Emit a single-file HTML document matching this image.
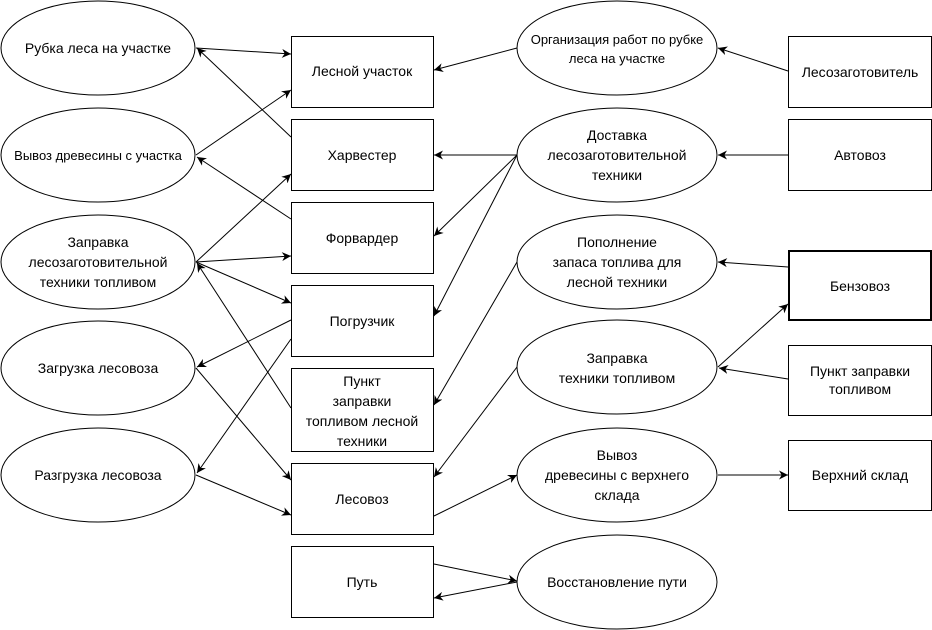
<!DOCTYPE html>
<html><head><meta charset="utf-8"><style>
html,body{margin:0;padding:0;background:#fff}
svg{display:block}
text{font-family:"Liberation Sans","DejaVu Sans",sans-serif;fill:#000;text-anchor:middle}
.s{font-size:14px}.m{font-size:14px}
</style></head><body>
<svg width="932" height="630" viewBox="0 0 932 630" xmlns="http://www.w3.org/2000/svg">
<defs><marker id="a" viewBox="0 0 10 10" refX="10" refY="5" markerWidth="9" markerHeight="9" markerUnits="userSpaceOnUse" orient="auto"><path d="M0,0 L10,5 L0,10 L3,5 z" fill="#000"/></marker></defs>
<g fill="none" stroke="#000" stroke-width="1">
<ellipse cx="98" cy="48" rx="97" ry="47"/>
<ellipse cx="98" cy="155" rx="97" ry="47"/>
<ellipse cx="98" cy="262" rx="97" ry="47"/>
<ellipse cx="98" cy="368" rx="97" ry="47"/>
<ellipse cx="98" cy="475" rx="97" ry="47"/>
<ellipse cx="617" cy="48" rx="100" ry="47"/>
<ellipse cx="617" cy="155" rx="100" ry="47"/>
<ellipse cx="617" cy="262" rx="100" ry="47"/>
<ellipse cx="617" cy="367" rx="100" ry="47"/>
<ellipse cx="617" cy="475" rx="100" ry="47"/>
<ellipse cx="617" cy="582" rx="100" ry="47"/>
<rect x="291.5" y="36.5" width="142" height="71"/>
<rect x="291.5" y="119.5" width="142" height="71"/>
<rect x="291.5" y="202.5" width="142" height="71"/>
<rect x="291.5" y="285.5" width="142" height="71"/>
<rect x="291.5" y="368.5" width="142" height="83"/>
<rect x="291.5" y="463.5" width="142" height="71"/>
<rect x="291.5" y="546.5" width="142" height="71"/>
<rect x="788.5" y="36.5" width="143" height="71"/>
<rect x="788.5" y="119.5" width="143" height="71"/>
<rect x="789" y="251" width="142" height="69" stroke-width="2"/>
<rect x="788.5" y="345.5" width="143" height="70"/>
<rect x="788.5" y="440.5" width="143" height="70"/>
</g>
<g stroke="#000" stroke-width="1" marker-end="url(#a)">
<line x1="196" y1="48" x2="291" y2="54"/>
<line x1="291" y1="137" x2="197" y2="48"/>
<line x1="196" y1="155" x2="291" y2="90"/>
<line x1="291" y1="219" x2="197" y2="157"/>
<line x1="196" y1="262" x2="291" y2="174"/>
<line x1="196" y1="262" x2="291" y2="256"/>
<line x1="196" y1="262" x2="291" y2="303"/>
<line x1="291" y1="408" x2="197" y2="263"/>
<line x1="291" y1="320" x2="197" y2="367"/>
<line x1="196" y1="368" x2="291" y2="480"/>
<line x1="291" y1="339" x2="197" y2="473"/>
<line x1="196" y1="475" x2="291" y2="515"/>
<line x1="517" y1="48" x2="434" y2="70"/>
<line x1="788" y1="71" x2="718" y2="48"/>
<line x1="517" y1="155" x2="434" y2="155"/>
<line x1="517" y1="155" x2="434" y2="236"/>
<line x1="517" y1="155" x2="434" y2="316"/>
<line x1="788" y1="155" x2="718" y2="155"/>
<line x1="517" y1="262" x2="434" y2="405"/>
<line x1="517" y1="367" x2="434" y2="477"/>
<line x1="434" y1="516" x2="517" y2="475"/>
<line x1="718" y1="475" x2="788" y2="475"/>
<line x1="434" y1="564" x2="517" y2="581"/>
<line x1="517" y1="582" x2="434" y2="598"/>
<line x1="788" y1="267" x2="718" y2="262"/>
<line x1="718" y1="367" x2="788" y2="304"/>
<line x1="788" y1="379" x2="719" y2="368"/>
</g>
<g class="m">
<text x="98" y="53">Рубка леса на участке</text>
<text x="98" y="160" style="font-size:13px">Вывоз древесины с участка</text>
<text x="98" y="247">Заправка</text><text x="98" y="267">лесозаготовительной</text><text x="98" y="287">техники топливом</text>
<text x="98" y="373">Загрузка лесовоза</text>
<text x="98" y="480">Разгрузка лесовоза</text>
<text x="617" y="44" style="font-size:13px">Организация работ по рубке</text><text x="617" y="63" style="font-size:13px">леса на участке</text>
<text x="617" y="140">Доставка</text><text x="617" y="160">лесозаготовительной</text><text x="617" y="180">техники</text>
<text x="617" y="247">Пополнение</text><text x="617" y="267">запаса топлива для</text><text x="617" y="287">лесной техники</text>
<text x="617" y="363">Заправка</text><text x="617" y="383">техники топливом</text>
<text x="617" y="460">Вывоз</text><text x="617" y="480">древесины с верхнего</text><text x="617" y="500">склада</text>
<text x="617" y="587">Восстановление пути</text>
</g>
<g class="s">
<text x="362" y="76">Лесной участок</text>
<text x="362" y="160">Харвестер</text>
<text x="362" y="243">Форвардер</text>
<text x="362" y="326">Погрузчик</text>
<text x="362" y="386">Пункт</text><text x="362" y="406">заправки</text><text x="362" y="426">топливом лесной</text><text x="362" y="446">техники</text>
<text x="362" y="504">Лесовоз</text>
<text x="362" y="587">Путь</text>
<text x="860" y="77">Лесозаготовитель</text>
<text x="860" y="160">Автовоз</text>
<text x="860" y="291">Бензовоз</text>
<text x="860" y="376">Пункт заправки</text><text x="860" y="394">топливом</text>
<text x="860" y="480">Верхний склад</text>
</g>
</svg>
</body></html>
